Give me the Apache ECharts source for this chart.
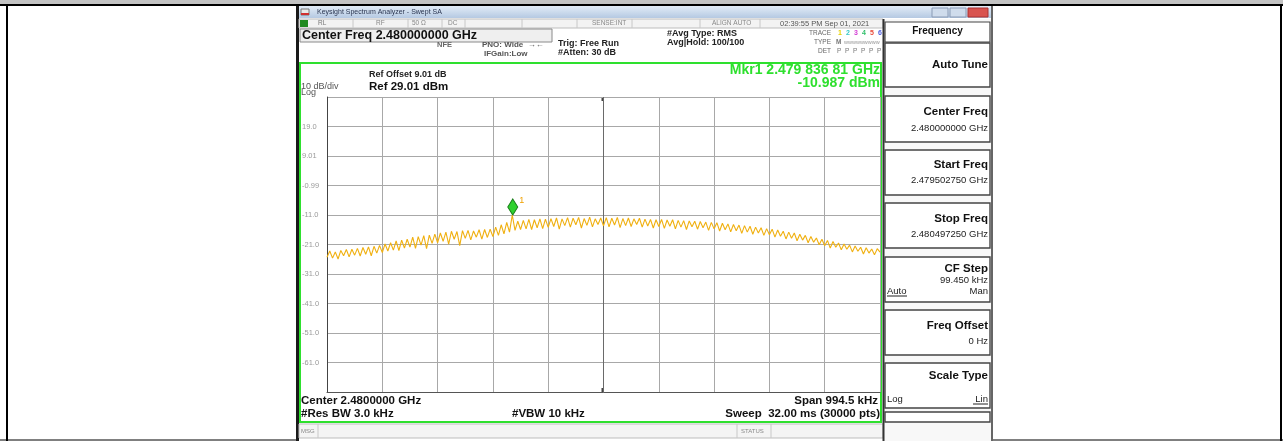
<!DOCTYPE html>
<html><head><meta charset="utf-8">
<script src="https://cdn.jsdelivr.net/npm/echarts@6/dist/echarts.min.js"></script>
<style>html,body{margin:0;padding:0;background:#fff}#c{width:1283px;height:441px}</style>
</head><body><div id="c"></div>
<script>
// ---- data ----
const spanStartKHz = -497.25;   // offset from centre 2.480000000 GHz
const spanStopKHz = 497.25;
const divKHz = 99.45;
const refDbm = 29.01;
const bottomDbm = -70.99;
const yTickLabels = ['', '-61.0', '-51.0', '-41.0', '-31.0', '-21.0', '-11.0', '-0.99', '9.01', '19.0', ''];
const traceDbm = [
 -25.3,-23.2,-25.6,-23.5,-25.9,-23.0,-24.8,-22.7,-25.2,-22.6,-24.6,-22.3,-24.9,-22.0,-24.3,-21.8,-24.8,-21.6,-23.9,-21.3,
 -23.7,-20.8,-23.2,-20.4,-22.9,-19.8,-23.1,-19.5,-22.2,-19.2,-21.9,-18.5,-22.3,-18.3,-21.2,-18.0,-22.4,-17.8,-20.6,-17.5,
 -20.4,-17.1,-19.9,-16.8,-20.9,-16.5,-19.2,-16.6,-21.4,-16.3,-18.9,-16.2,-19.4,-16.4,-18.5,-16.0,-19.2,-15.9,-18.6,-15.8,
 -18.3,-15.1,-17.9,-14.3,-17.4,-13.5,-16.8,-10.99,-16.2,-13.1,-15.9,-12.8,-15.7,-12.5,-15.9,-12.6,-15.3,-12.3,-15.6,-12.4,
 -15.2,-12.2,-14.9,-12.0,-15.8,-12.3,-14.6,-11.9,-15.1,-12.1,-14.3,-11.8,-15.4,-12.2,-14.5,-11.7,-15.0,-12.3,-14.2,-12.0,
 -14.7,-11.9,-15.0,-12.1,-14.4,-11.8,-15.3,-12.2,-14.6,-12.0,-14.9,-12.3,-14.2,-12.1,-15.1,-12.4,-14.7,-12.5,-15.4,-12.6,
 -14.9,-12.5,-15.5,-12.7,-14.8,-12.6,-15.7,-12.8,-15.1,-12.9,-15.9,-13.0,-15.0,-13.1,-15.8,-13.2,-15.3,-13.4,-16.2,-13.5,
 -15.7,-13.6,-16.4,-13.8,-16.0,-14.0,-16.7,-14.2,-16.3,-14.4,-17.2,-14.6,-16.8,-14.8,-17.5,-15.1,-17.1,-15.3,-17.9,-15.6,
 -17.7,-15.8,-18.5,-16.1,-18.2,-16.5,-19.1,-16.8,-18.9,-17.1,-19.7,-17.5,-19.5,-17.9,-20.4,-18.3,-20.2,-18.8,-21.1,-19.2,
 -21.4,-19.6,-22.2,-20.0,-21.9,-20.5,-22.8,-20.8,-22.6,-21.2,-23.5,-21.5,-23.3,-21.9,-24.2,-22.1,-23.9,-22.5,-24.5,-22.4,-23.6
];
const markerFreqKHz = -163.19;
const markerDbm = -10.987;

// sweep point frequencies (evenly spaced across span)
const stepKHz = (spanStopKHz - spanStartKHz) / (traceDbm.length - 1);
const tracePts = traceDbm.map((v, i) => [spanStartKHz + i * stepKHz, v]);

// ---- chrome helpers ----
const FF = '"Liberation Sans", Arial, sans-serif';
const G = [];
function rect(x, y, w, h, fill, stroke, lw) {
  G.push({type:'rect', shape:{x, y, width:w, height:h}, style:{fill: fill || 'none', stroke: stroke || null, lineWidth: lw || 1}, silent:true});
}
function line(x1, y1, x2, y2, c, w) {
  G.push({type:'line', shape:{x1, y1, x2, y2}, style:{stroke:c, lineWidth:w || 1}, silent:true});
}
function txt(s, x, y, font, fill, align) {
  G.push({type:'text', x, y, silent:true, style:{text:s, font:font, fill:fill, textAlign:align || 'left', align:align || 'left', textVerticalAlign:'middle', verticalAlign:'middle'}});
}

// page frame
rect(0, 0, 1283, 4, '#c3c3c3');
line(0, 5, 1283, 5, '#000', 2);
line(7, 5, 7, 441, '#000', 2);
line(1281, 5, 1281, 441, '#000', 2);
line(0, 440, 1283, 440, '#000', 1);

// screenshot window
rect(296, 6, 697, 435, '#ffffff');
rect(296, 6, 3, 435, '#1a1a1a');
rect(991, 6, 2, 435, '#666');
G.push({type:'rect', shape:{x:299, y:6, width:692, height:12}, silent:true,
  style:{fill:{type:'linear', x:0, y:0, x2:0, y2:1, colorStops:[{offset:0, color:'#e2ecf7'}, {offset:1, color:'#b5c9e2'}]}}});
rect(301, 9, 8, 6, '#e9e9e9', '#777');
rect(301, 13, 8, 2, '#d03030');
txt('Keysight Spectrum Analyzer - Swept SA', 317, 12.5, '7px ' + FF, '#2a3550');
rect(932, 8, 16, 9, '#cfdcec', '#8a9bb5');
rect(950, 8, 16, 9, '#cfdcec', '#8a9bb5');
rect(968, 8, 20, 9, '#d9534f', '#a33');

// status row
rect(299, 19, 584, 9, '#f3f3f3', '#bdbdbd');
rect(300, 20, 8, 7, '#1f8a1f');
[353, 408, 442, 465, 522, 577, 632, 700, 760].forEach(x => line(x, 19, x, 28, '#c8c8c8', 1));
txt('RL', 318, 23.5, '6.5px ' + FF, '#777');
txt('RF', 376, 23.5, '6.5px ' + FF, '#888');
txt('50 Ω', 412, 23.5, '6.5px ' + FF, '#888');
txt('DC', 448, 23.5, '6.5px ' + FF, '#888');
txt('SENSE:INT', 592, 23.5, '6.5px ' + FF, '#888');
txt('ALIGN AUTO', 712, 23.5, '6.5px ' + FF, '#888');
txt('02:39:55 PM Sep 01, 2021', 780, 23.5, '7.5px ' + FF, '#555');

// centre freq box + header info
rect(300, 29, 252, 13, '#efefef', '#8a8a8a');
txt('Center Freq 2.480000000 GHz', 302, 35.5, 'bold 12.5px ' + FF, '#111');
txt('NFE', 437, 45, 'bold 7.5px ' + FF, '#666');
txt('PNO: Wide  \u2192\u2190', 482, 45, 'bold 8px ' + FF, '#555');
txt('IFGain:Low', 484, 54, 'bold 8px ' + FF, '#555');
txt('Trig: Free Run', 558, 44, 'bold 9px ' + FF, '#222');
txt('#Atten: 30 dB', 558, 53, 'bold 9px ' + FF, '#222');
txt('#Avg Type: RMS', 667, 34, 'bold 9px ' + FF, '#222');
txt('Avg|Hold: 100/100', 667, 43, 'bold 9px ' + FF, '#222');
txt('TRACE', 831, 33, '6.5px ' + FF, '#666', 'right');
txt('TYPE', 831, 42, '6.5px ' + FF, '#666', 'right');
txt('DET', 831, 51, '6.5px ' + FF, '#666', 'right');
const trCols = ['#e6d200', '#36c8c8', '#d43cd4', '#2fbf6a', '#e84a3a', '#5060e0'];
trCols.forEach((c, i) => {
  txt(String(i + 1), 838 + i * 8, 33, 'bold 7px ' + FF, c);
  txt('P', 837 + i * 8, 51, '6.5px ' + FF, '#777');
});
txt('M', 836, 42, 'bold 6.5px ' + FF, '#777');
txt('wwwwwwwww', 844, 42, '5.5px ' + FF, '#999');

// plot frame (green)
rect(300, 63, 581, 359, 'none', '#2ee02e', 2);
txt('Ref Offset 9.01 dB', 369, 75, 'bold 9px ' + FF, '#222');
txt('Ref 29.01 dBm', 369, 86.5, 'bold 11.5px ' + FF, '#111');
txt('10 dB/div', 301, 86.5, '9px ' + FF, '#555');
txt('Log', 301, 93, '9px ' + FF, '#555');
txt('Mkr1 2.479 836 81 GHz', 880, 70, 'bold 14px ' + FF, '#2ee02e', 'right');
txt('-10.987 dBm', 880, 83, 'bold 14px ' + FF, '#2ee02e', 'right');
txt('Center 2.4800000 GHz', 301, 401, 'bold 11.5px ' + FF, '#111');
txt('#Res BW 3.0 kHz', 301, 414, 'bold 11.5px ' + FF, '#111');
txt('#VBW 10 kHz', 512, 414, 'bold 11.5px ' + FF, '#111');
txt('Span 994.5 kHz', 878, 401, 'bold 11.5px ' + FF, '#111', 'right');
txt('Sweep  32.00 ms (30000 pts)', 880, 414, 'bold 11.5px ' + FF, '#111', 'right');
// centre line ticks
line(602.5, 97, 602.5, 101, '#444', 2);
line(602.5, 388, 602.5, 392, '#444', 2);

// message row
rect(299, 424, 584, 14, '#f4f4f4', '#bdbdbd');
line(318, 424, 318, 438, '#c8c8c8', 1);
line(737, 424, 737, 438, '#c8c8c8', 1);
line(771, 424, 771, 438, '#c8c8c8', 1);
txt('MSG', 301, 431, '6px ' + FF, '#888');
txt('STATUS', 741, 431, '6px ' + FF, '#888');

// right soft-key panel
rect(883, 19, 108, 422, '#f8f8f8');
line(883.5, 19, 883.5, 441, '#333', 2);
rect(885, 22, 105, 20, '#ffffff', '#444', 1.2);
txt('Frequency', 937.5, 31, 'bold 10px ' + FF, '#111', 'center');
const keys = [
  [43, 87, 'Auto Tune', 65, null, 0],
  [96, 142, 'Center Freq', 112, '2.480000000 GHz', 128],
  [150, 195, 'Start Freq', 165, '2.479502750 GHz', 180],
  [203, 248, 'Stop Freq', 219, '2.480497250 GHz', 234],
  [257, 302, 'CF Step', 269, '99.450 kHz', 280],
  [310, 355, 'Freq Offset', 326, '0 Hz', 341],
  [363, 408, 'Scale Type', 376, null, 0],
  [412, 422, '', 0, null, 0]
];
keys.forEach(k => {
  rect(885, k[0], 105, k[1] - k[0], '#ffffff', '#444', 1.4);
  if (k[2]) txt(k[2], 988, k[3], 'bold 11.5px ' + FF, '#111', 'right');
  if (k[4]) txt(k[4], 988, k[5], '9.5px ' + FF, '#222', 'right');
});
txt('Auto', 887, 291, '9.5px ' + FF, '#222');
line(887, 296, 907, 296, '#222', 1);
txt('Man', 988, 291, '9.5px ' + FF, '#222', 'right');
txt('Log', 887, 399, '9.5px ' + FF, '#222');
txt('Lin', 988, 399, '9.5px ' + FF, '#222', 'right');
line(973, 404, 988, 404, '#222', 1);

// ---- chart ----
const chart = echarts.init(document.getElementById('c'), null, {renderer:'canvas'});
chart.setOption({
  backgroundColor: '#ffffff',
  animation: false,
  graphic: {elements: G},
  grid: {left: 327, right: 403, top: 97, bottom: 49, containLabel: false},
  xAxis: {
    type: 'value', min: spanStartKHz, max: spanStopKHz, interval: divKHz,
    axisLine: {show: true, onZero: false, lineStyle: {color: '#555', width: 1}},
    axisTick: {show: false}, axisLabel: {show: false},
    splitLine: {show: true, lineStyle: {color: '#a8a8a8', width: 1}}
  },
  yAxis: {
    type: 'value', min: bottomDbm, max: refDbm, interval: 10,
    axisLine: {show: true, onZero: false, lineStyle: {color: '#444', width: 1}},
    axisTick: {show: false},
    axisLabel: {
      show: true, align: 'left', margin: 25, color: '#9a9a9a', fontSize: 7.5, fontFamily: FF,
      formatter: v => yTickLabels[Math.round((v - bottomDbm) / 10)] || ''
    },
    splitLine: {show: true, lineStyle: {color: '#a8a8a8', width: 1}}
  },
  series: [{
    type: 'line', data: tracePts, showSymbol: false, symbol: 'none',
    lineStyle: {color: '#f0b010', width: 1.1}, z: 5,
    markLine: {
      silent: true, symbol: 'none', label: {show: false},
      lineStyle: {color: '#6a6a6a', type: 'solid', width: 1},
      data: [{xAxis: 0}]
    },
    markPoint: {
      silent: true,
      data: [{coord: [markerFreqKHz, markerDbm]}],
      symbol: 'diamond', symbolSize: [10, 16], symbolOffset: [0, '-50%'],
      itemStyle: {color: '#2fd12f', borderColor: '#1a7f1a', borderWidth: 1},
      label: {show: true, formatter: '1', position: [12, -2], color: '#f0a000', fontSize: 9, fontFamily: FF}
    }
  }]
});
</script></body></html>
